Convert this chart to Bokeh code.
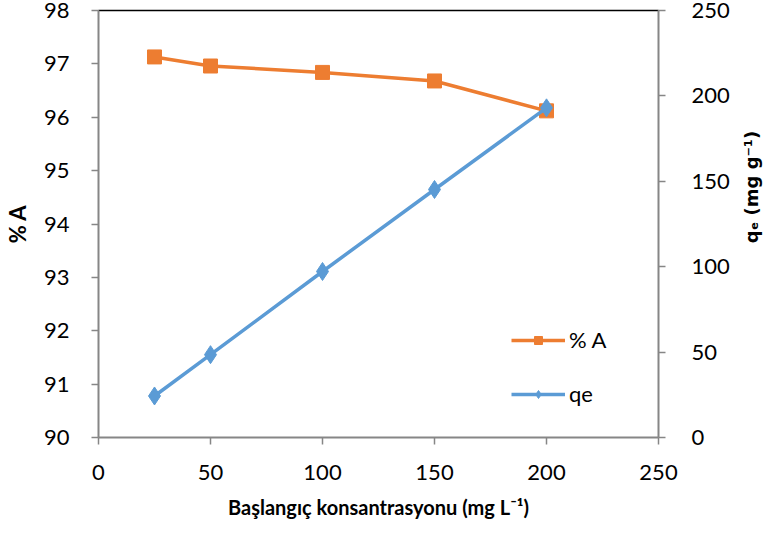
from bokeh.plotting import figure
from bokeh.layouts import row
from bokeh.models import Range1d, LinearAxis, Legend, LegendItem, FixedTicker
from bokeh.core.properties import value
from bokeh.embed import file_html
from bokeh.resources import INLINE
import math

# Data
conc = [25, 50, 100, 150, 200]
percent_a = [97.13, 96.96, 96.84, 96.68, 96.12]
qe = [24.3, 48.5, 97.2, 145.2, 193.0]

x_ticks = [0, 50, 100, 150, 200, 250]
left_ticks = [90, 91, 92, 93, 94, 95, 96, 97, 98]
right_ticks = [0, 50, 100, 150, 200, 250]
right_axis_title = "qₑ (mg g⁻¹)"

FONT = "Lato"
AXIS_GRAY = "#868686"
ORANGE = "#ED7D31"
BLUE = "#5B9BD5"
FW, FH = 560, 427

p = figure(frame_width=FW, frame_height=FH, output_backend="svg", toolbar_location=None,
           x_range=Range1d(0, 250), y_range=Range1d(90, 98),
           min_border_left=96, min_border_right=79, min_border_top=10, min_border_bottom=10)
p.extra_y_ranges = {"qe": Range1d(0, 250)}
p.grid.visible = False
p.outline_line_color = None
p.background_fill_color = "white"
p.border_fill_color = "white"

def style_axis(ax):
    ax.axis_line_color = AXIS_GRAY
    ax.axis_line_width = 2
    ax.major_tick_line_color = AXIS_GRAY
    ax.major_tick_line_width = 1.5
    ax.major_tick_out = 7
    ax.major_tick_in = 0
    ax.minor_tick_line_color = None
    ax.major_label_text_font = FONT
    ax.major_label_text_font_size = "22px"
    ax.major_label_text_color = "black"
    ax.axis_label_text_font = FONT
    ax.axis_label_text_font_style = "bold"
    ax.axis_label_text_font_size = "20px"
    ax.axis_label_text_color = "black"

xa = p.xaxis[0]
style_axis(xa)
xa.ticker = FixedTicker(ticks=x_ticks)
xa.axis_label = "Başlangıç konsantrasyonu (mg L⁻¹)"
xa.major_label_standoff = 20
xa.axis_label_standoff = 12

ya = p.yaxis[0]
style_axis(ya)
ya.ticker = FixedTicker(ticks=left_ticks)
ya.axis_label = "% A"
ya.axis_label_text_font_size = "22px"
ya.major_label_standoff = 22
ya.axis_label_standoff = 10

ra = LinearAxis(y_range_name="qe")
style_axis(ra)
ra.ticker = FixedTicker(ticks=right_ticks)
ra.major_label_standoff = 26
p.add_layout(ra, "right")

top = LinearAxis(ticker=FixedTicker(ticks=[]))
top.axis_line_color = "black"
top.axis_line_width = 1.5
top.major_tick_line_color = None
top.minor_tick_line_color = None
top.major_label_text_font_size = "0px"
top.major_label_standoff = 0
p.add_layout(top, "above")

l1 = p.line(conc, percent_a, line_color=ORANGE, line_width=3.5)
s1 = p.scatter(conc, percent_a, marker="square", size=14, fill_color=ORANGE, line_color=ORANGE)
l2 = p.line(conc, qe, line_color=BLUE, line_width=3.5, y_range_name="qe")
s2 = p.scatter(conc, qe, marker="diamond", size=18, fill_color=BLUE, line_color=BLUE, y_range_name="qe")

legend = Legend(items=[LegendItem(label="% A", renderers=[l1, s1]),
                       LegendItem(label="qe", renderers=[l2, s2])],
                location=(413, 30), orientation="vertical")
legend.border_line_color = None
legend.background_fill_alpha = 0
legend.padding = 0
legend.margin = 0
legend.glyph_width = 54
legend.glyph_height = 20
legend.label_height = 20
legend.spacing = 27
legend.label_standoff = 4
legend.label_text_font = FONT
legend.label_text_font_size = "22px"
legend.label_text_color = "black"
p.add_layout(legend, "center")

# Narrow side panel carrying the right axis title (reads bottom-to-top)
p2 = figure(width=28, height=447, output_backend="svg", toolbar_location=None,
            x_range=Range1d(0, 1), y_range=Range1d(0, 1), min_border=0)
p2.axis.visible = False
p2.grid.visible = False
p2.outline_line_color = None
p2.background_fill_color = "white"
p2.border_fill_color = "white"
p2.text(x=[0.5], y=[0.5], text=[right_axis_title], angle=math.pi / 2,
        text_align="center", text_baseline="middle",
        text_font=value("DejaVu Sans"), text_font_style="bold",
        text_font_size="18px", text_color="black")

layout = row(p, p2, spacing=0)
open("out.html", "w").write(file_html(layout, INLINE))
